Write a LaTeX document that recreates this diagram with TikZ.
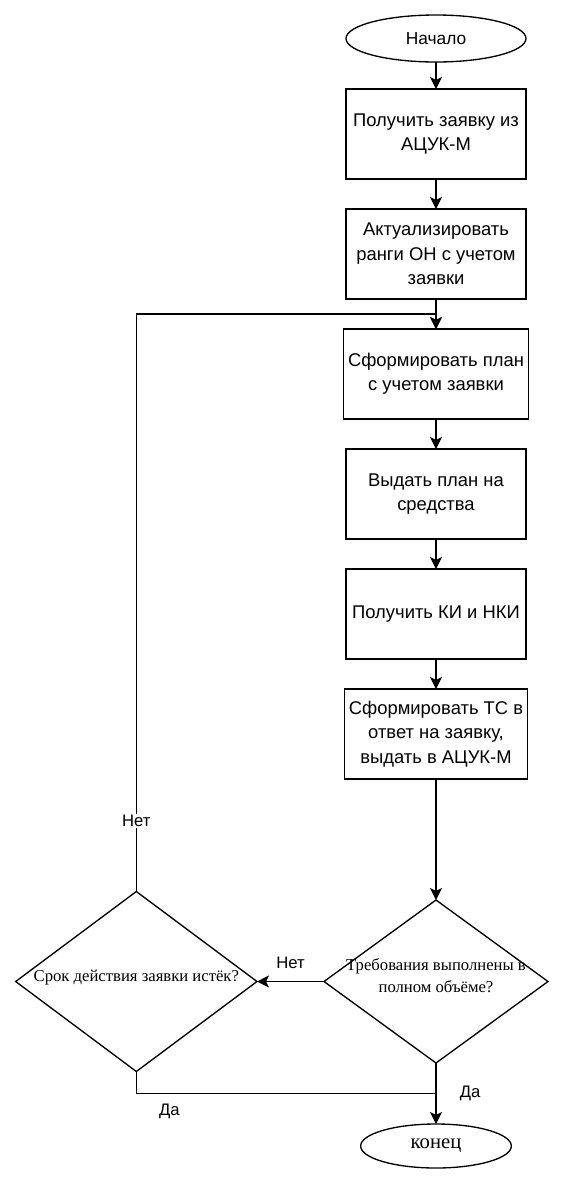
\documentclass[tikz,border=0pt]{standalone}
\usepackage{fontspec}
\setmainfont{Liberation Serif}
\setsansfont{Liberation Sans}
\usetikzlibrary{positioning,calc,arrows.meta,shapes.geometric}

% text inside a diamond takes no room, so the diamond keeps its given size
\newcommand{\qtext}[1]{\makebox[0pt]{\smash{\begin{tabular}{@{}c@{}}#1\end{tabular}}}}

\begin{document}
\begin{tikzpicture}[x=0.75pt, y=-0.75pt,
  terminal/.style={draw, ellipse, line width=1pt, inner sep=0pt, outer sep=0pt,
    minimum width=135pt, minimum height=35.25pt},
  action/.style={draw, rectangle, line width=1pt, outer sep=0pt, minimum width=135pt,
    minimum height=67.5pt, align=center, font=\sffamily\fontsize{13.8}{18.2}\selectfont},
  decision/.style={draw, diamond, line width=1pt, inner sep=0pt, outer sep=0pt,
    font=\rmfamily\fontsize{12.5}{16.3}\selectfont},
  lbl/.style={font=\sffamily\fontsize{12.5}{15}\selectfont},
  arr/.style={-{Stealth[length=9pt, width=9pt, inset=2.2pt]}, line width=1pt},
  link/.style={line width=1pt},
]
  \useasboundingbox (0,0) rectangle (566,1186);

  \node[terminal, font=\sffamily\fontsize{13}{15}\selectfont] (start) at (436,38.5) {Начало};
  \node[action, below=20.25pt of start] (getreq) {Получить заявку из\\АЦУК-М};
  \node[action, below=22.5pt of getreq] (update) {Актуализировать\\ранги ОН с учетом\\заявки};
  \node[action, below=22.5pt of update] (plan) {Сформировать план\\с учетом заявки};
  \node[action, below=22.5pt of plan] (issue) {Выдать план на\\средства};
  \node[action, below=22.5pt of issue] (recv) {Получить КИ и НКИ};
  \node[action, below=22.5pt of recv] (formts) {Сформировать ТС в\\ответ на заявку,\\выдать в АЦУК-М};
  \node[decision, minimum width=168pt, minimum height=122.25pt, below=90.75pt of formts] (check)
    {\qtext{Требования выполнены в\\полном объёме?}};
  \node[decision, minimum width=181pt, minimum height=135pt, left=50.25pt of check] (expired)
    {\qtext{Срок действия заявки истёк?}};
  \node[terminal, minimum width=113pt, minimum height=33pt, below=45.75pt of check,
    font=\rmfamily\fontsize{15.5}{18}\selectfont] (stop) {конец};

  \coordinate (loop) at ($(update.south)!0.5!(plan.north)$);
  \coordinate (merge) at ($(check.south)!0.5!(stop.north)$);

  \draw[arr] (start) -- (getreq);
  \draw[arr] (getreq) -- (update);
  \draw[arr] (update) -- (plan);
  \draw[arr] (plan) -- (issue);
  \draw[arr] (issue) -- (recv);
  \draw[arr] (recv) -- (formts);
  \draw[arr] (formts) -- (check);

  \draw[arr] (check.west) -- node[lbl, above=6pt] {Нет} (expired.east);
  \draw[arr] (expired.north) |- node[lbl, pos=0.061, fill=white, inner sep=1pt] {Нет} (loop) -- (plan.north);
  \draw[arr] (check.south) -- node[lbl, right=14pt] {Да} (stop.north);
  \draw[link] (expired.south) |- node[lbl, pos=0.555, below=4pt] {Да} (merge);
\end{tikzpicture}
\end{document}
